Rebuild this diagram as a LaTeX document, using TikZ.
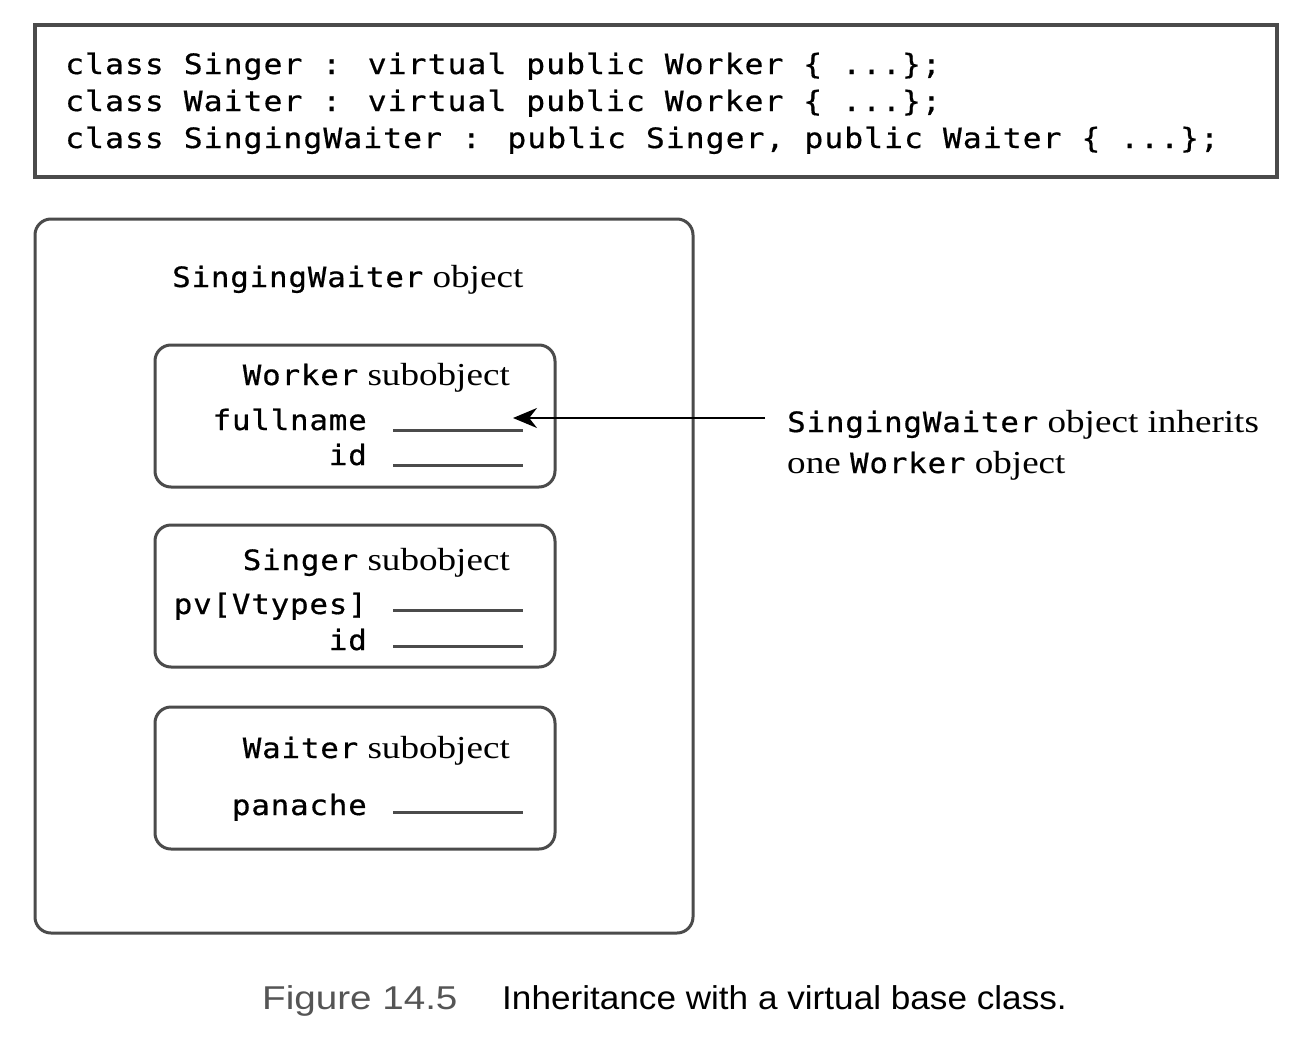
\documentclass[tikz,border=0pt]{standalone}
\usepackage{fontspec}
\setmainfont[FakeStretch=1.16]{Liberation Serif}
\newfontfamily\codefont[FakeStretch=1.12,LetterSpace=3.8,FakeBold=0.6]{DejaVu Sans Mono}
\newfontfamily\lblmono[FakeStretch=1.1,LetterSpace=3,FakeBold=0.6]{DejaVu Sans Mono}
\newfontfamily\capfont[FakeStretch=1.065]{Liberation Sans}
\newfontfamily\capnumfont[FakeStretch=1.17]{Liberation Sans}
\usetikzlibrary{arrows.meta}
\definecolor{boxgray}{RGB}{75,75,75}
\definecolor{capgray}{RGB}{85,85,85}
\newcommand\mn[1]{{\lblmono\fontsize{28}{36}\selectfont #1}}
\begin{document}
\begin{tikzpicture}[x=1pt,y=-1pt,
  codetext/.style={anchor=base west,inner sep=0pt,font=\codefont\fontsize{28}{37}\selectfont},
  serif/.style={inner sep=0pt,font=\fontsize{32}{38}\selectfont},
  field/.style={anchor=base east,inner sep=0pt,font=\lblmono\fontsize{28}{36}\selectfont},
  objbox/.style={draw=boxgray,line width=3pt,rounded corners=16pt,inner sep=0pt},
  blank/.style={draw=boxgray,line width=3pt},
  captext/.style={anchor=base west,inner sep=0pt,font=\capfont\fontsize{33}{38}\selectfont}]
\useasboundingbox (0,0) rectangle (1312,1044);
\fill[white] (0,0) rectangle (1312,1044);
% code box
\node[draw=boxgray,line width=3.5pt,inner sep=0pt,minimum width=1242pt,minimum height=152pt] (codebox) at (656,101) {};
\node[codetext] (code1) at (65,74) {class Singer : virtual public Worker \{ ...\};};
\node[codetext] (code2) at (65,111) {class Waiter : virtual public Worker \{ ...\};};
\node[codetext] (code3) at (65,148) {class SingingWaiter : public Singer, public Waiter \{ ...\};};
% outer object
\node[objbox,minimum width=658pt,minimum height=714pt] (sw) at (364,576) {};
\node[serif,anchor=base west] (swtitle) at (172,287) {\mn{SingingWaiter} object};
% worker
\node[objbox,minimum width=400pt,minimum height=142pt] (worker) at (355,416) {};
\node[serif,anchor=base east] (wtitle) at (510,385) {\mn{Worker} subobject};
\node[field] (wf1) at (367,430) {fullname};
\node[field] (wf2) at (367,465) {id};
\draw[blank] (393,430) -- (523,430);
\draw[blank] (393,465) -- (523,465);
% singer
\node[objbox,minimum width=400pt,minimum height=142pt] (singer) at (355,596) {};
\node[serif,anchor=base east] (stitle) at (510,570) {\mn{Singer} subobject};
\node[field] (sf1) at (367,614) {pv[Vtypes]};
\node[field] (sf2) at (367,650) {id};
\draw[blank] (393,610) -- (523,610);
\draw[blank] (393,646) -- (523,646);
% waiter
\node[objbox,minimum width=400pt,minimum height=142pt] (waiter) at (355,778) {};
\node[serif,anchor=base east] (wttitle) at (510,758) {\mn{Waiter} subobject};
\node[field] (wtf1) at (367,815) {panache};
\draw[blank] (393,812) -- (523,812);
% annotation
\node[serif,anchor=base west] (note1) at (787,432) {\mn{SingingWaiter} object inherits};
\node[serif,anchor=base west] (note2) at (787,473) {one \mn{Worker} object};
\coordinate (arrS) at (765,418);
\coordinate (arrE) at (513,418);
\draw[line width=2pt,-{Stealth[length=24pt,width=20pt]}] (arrS) -- (arrE);
% caption
\node[captext,font=\capnumfont\fontsize{33}{38}\selectfont,text=capgray] (capnum) at (262,1009) {Figure 14.5};
\node[captext] (captxt) at (502,1009) {Inheritance with a virtual base class.};
\end{tikzpicture}
\end{document}
